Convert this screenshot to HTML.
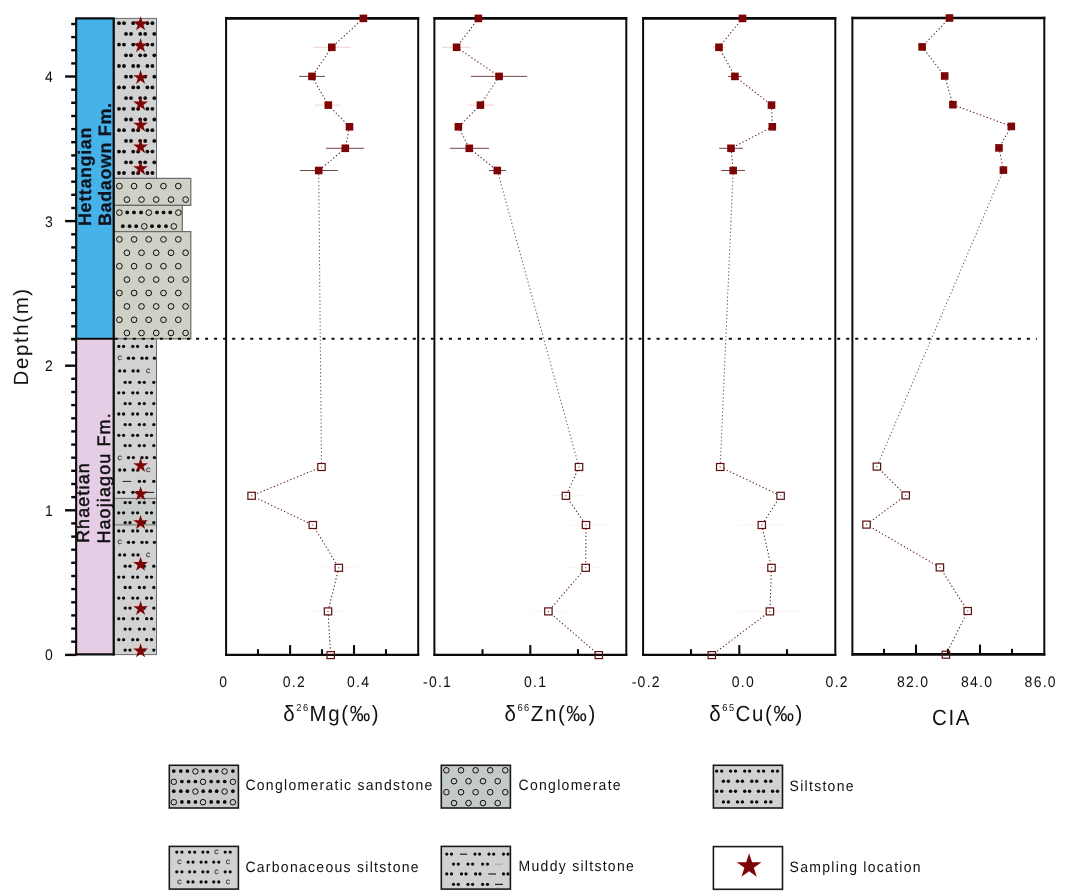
<!DOCTYPE html>
<html><head><meta charset="utf-8"><title>Depth profile</title>
<style>
html,body{margin:0;padding:0;background:#fff;}
svg{display:block;font-family:"Liberation Sans",sans-serif;text-rendering:geometricPrecision;}
.tl{font-size:14px;letter-spacing:1.25px;fill:#111;}
.at{font-size:20.5px;letter-spacing:1.6px;fill:#111;}
.lg{font-size:14px;letter-spacing:1.28px;fill:#111;}
.sup{font-size:9.3px;letter-spacing:1.5px;}
</style></head><body>
<svg width="1075" height="894" viewBox="0 0 1075 894">
<rect width="1075" height="894" fill="#fff"/>

<g stroke="#0a0a0a" stroke-width="2.4">
<line x1="65.1" y1="654.9" x2="76" y2="654.9"/>
<line x1="71.2" y1="641.7" x2="76" y2="641.7"/>
<line x1="71.2" y1="628.6" x2="76" y2="628.6"/>
<line x1="71.2" y1="615.4" x2="76" y2="615.4"/>
<line x1="71.2" y1="602.3" x2="76" y2="602.3"/>
<line x1="71.2" y1="589.1" x2="76" y2="589.1"/>
<line x1="71.2" y1="576.0" x2="76" y2="576.0"/>
<line x1="71.2" y1="562.8" x2="76" y2="562.8"/>
<line x1="71.2" y1="549.7" x2="76" y2="549.7"/>
<line x1="71.2" y1="536.6" x2="76" y2="536.6"/>
<line x1="71.2" y1="523.4" x2="76" y2="523.4"/>
<line x1="65.1" y1="510.3" x2="76" y2="510.3"/>
<line x1="71.2" y1="497.1" x2="76" y2="497.1"/>
<line x1="71.2" y1="484.0" x2="76" y2="484.0"/>
<line x1="71.2" y1="470.8" x2="76" y2="470.8"/>
<line x1="71.2" y1="457.7" x2="76" y2="457.7"/>
<line x1="71.2" y1="444.6" x2="76" y2="444.6"/>
<line x1="71.2" y1="431.4" x2="76" y2="431.4"/>
<line x1="71.2" y1="418.3" x2="76" y2="418.3"/>
<line x1="71.2" y1="405.1" x2="76" y2="405.1"/>
<line x1="71.2" y1="392.0" x2="76" y2="392.0"/>
<line x1="71.2" y1="378.8" x2="76" y2="378.8"/>
<line x1="65.1" y1="365.7" x2="76" y2="365.7"/>
<line x1="71.2" y1="352.5" x2="76" y2="352.5"/>
<line x1="71.2" y1="339.4" x2="76" y2="339.4"/>
<line x1="71.2" y1="326.3" x2="76" y2="326.3"/>
<line x1="71.2" y1="313.1" x2="76" y2="313.1"/>
<line x1="71.2" y1="300.0" x2="76" y2="300.0"/>
<line x1="71.2" y1="286.8" x2="76" y2="286.8"/>
<line x1="71.2" y1="273.7" x2="76" y2="273.7"/>
<line x1="71.2" y1="260.5" x2="76" y2="260.5"/>
<line x1="71.2" y1="247.4" x2="76" y2="247.4"/>
<line x1="71.2" y1="234.3" x2="76" y2="234.3"/>
<line x1="65.1" y1="221.1" x2="76" y2="221.1"/>
<line x1="71.2" y1="208.0" x2="76" y2="208.0"/>
<line x1="71.2" y1="194.8" x2="76" y2="194.8"/>
<line x1="71.2" y1="181.7" x2="76" y2="181.7"/>
<line x1="71.2" y1="168.5" x2="76" y2="168.5"/>
<line x1="71.2" y1="155.4" x2="76" y2="155.4"/>
<line x1="71.2" y1="142.2" x2="76" y2="142.2"/>
<line x1="71.2" y1="129.1" x2="76" y2="129.1"/>
<line x1="71.2" y1="116.0" x2="76" y2="116.0"/>
<line x1="71.2" y1="102.8" x2="76" y2="102.8"/>
<line x1="71.2" y1="89.7" x2="76" y2="89.7"/>
<line x1="65.1" y1="76.5" x2="76" y2="76.5"/>
<line x1="71.2" y1="63.4" x2="76" y2="63.4"/>
<line x1="71.2" y1="50.2" x2="76" y2="50.2"/>
<line x1="71.2" y1="37.1" x2="76" y2="37.1"/>
<line x1="71.2" y1="24.0" x2="76" y2="24.0"/>
</g>
<text class="tl" transform="translate(45.00,660.25) scale(1,1.090)" >0</text>
<text class="tl" transform="translate(45.00,515.67) scale(1,1.090)" >1</text>
<text class="tl" transform="translate(45.00,371.09) scale(1,1.090)" >2</text>
<text class="tl" transform="translate(45.00,226.51) scale(1,1.090)" >3</text>
<text class="tl" transform="translate(45.00,81.93) scale(1,1.090)" >4</text>
<text class="at" transform="translate(27.6,385.5) rotate(-90)">Depth(m)</text>
<rect x="76" y="18.4" width="38" height="320.4" fill="#45b2e9"/>
<rect x="76" y="338.8" width="38" height="315.6" fill="#e5cde5"/>
<g font-weight="bold" font-size="18px" letter-spacing="0.6px" fill="#10131c" stroke="#10131c" stroke-width="0.25">
<text transform="translate(90.8,226) rotate(-90)">Hettangian</text>
<text transform="translate(110.9,226) rotate(-90)">Badaown Fm.</text>
</g>
<g font-size="18px" letter-spacing="1.1px" fill="#111" stroke="#111" stroke-width="0.5">
<text transform="translate(89.3,543) rotate(-90)">Rhaetian</text>
<text transform="translate(109.9,543.6) rotate(-90)">Haojiagou Fm.</text>
</g>
<rect x="114.4" y="18.4" width="42.1" height="160" fill="#d2d2d2" stroke="#6a6a6a" stroke-width="1"/>
<g fill="#0a0a0a">
<circle cx="119.0" cy="23.2" r="1.90"/>
<circle cx="124.0" cy="23.2" r="1.90"/>
<circle cx="133.2" cy="23.2" r="1.90"/>
<circle cx="138.2" cy="23.2" r="1.90"/>
<circle cx="147.4" cy="23.2" r="1.90"/>
<circle cx="152.4" cy="23.2" r="1.90"/>
<circle cx="126.0" cy="33.9" r="1.90"/>
<circle cx="131.0" cy="33.9" r="1.90"/>
<circle cx="140.2" cy="33.9" r="1.90"/>
<circle cx="145.2" cy="33.9" r="1.90"/>
<circle cx="154.3" cy="33.9" r="1.90"/>
<circle cx="119.0" cy="44.6" r="1.90"/>
<circle cx="124.0" cy="44.6" r="1.90"/>
<circle cx="133.2" cy="44.6" r="1.90"/>
<circle cx="138.2" cy="44.6" r="1.90"/>
<circle cx="147.4" cy="44.6" r="1.90"/>
<circle cx="152.4" cy="44.6" r="1.90"/>
<circle cx="126.0" cy="55.3" r="1.90"/>
<circle cx="131.0" cy="55.3" r="1.90"/>
<circle cx="140.2" cy="55.3" r="1.90"/>
<circle cx="145.2" cy="55.3" r="1.90"/>
<circle cx="154.3" cy="55.3" r="1.90"/>
<circle cx="119.0" cy="66.0" r="1.90"/>
<circle cx="124.0" cy="66.0" r="1.90"/>
<circle cx="133.2" cy="66.0" r="1.90"/>
<circle cx="138.2" cy="66.0" r="1.90"/>
<circle cx="147.4" cy="66.0" r="1.90"/>
<circle cx="152.4" cy="66.0" r="1.90"/>
<circle cx="126.0" cy="76.7" r="1.90"/>
<circle cx="131.0" cy="76.7" r="1.90"/>
<circle cx="140.2" cy="76.7" r="1.90"/>
<circle cx="145.2" cy="76.7" r="1.90"/>
<circle cx="154.3" cy="76.7" r="1.90"/>
<circle cx="119.0" cy="87.4" r="1.90"/>
<circle cx="124.0" cy="87.4" r="1.90"/>
<circle cx="133.2" cy="87.4" r="1.90"/>
<circle cx="138.2" cy="87.4" r="1.90"/>
<circle cx="147.4" cy="87.4" r="1.90"/>
<circle cx="152.4" cy="87.4" r="1.90"/>
<circle cx="126.0" cy="98.1" r="1.90"/>
<circle cx="131.0" cy="98.1" r="1.90"/>
<circle cx="140.2" cy="98.1" r="1.90"/>
<circle cx="145.2" cy="98.1" r="1.90"/>
<circle cx="154.3" cy="98.1" r="1.90"/>
<circle cx="119.0" cy="108.8" r="1.90"/>
<circle cx="124.0" cy="108.8" r="1.90"/>
<circle cx="133.2" cy="108.8" r="1.90"/>
<circle cx="138.2" cy="108.8" r="1.90"/>
<circle cx="147.4" cy="108.8" r="1.90"/>
<circle cx="152.4" cy="108.8" r="1.90"/>
<circle cx="126.0" cy="119.5" r="1.90"/>
<circle cx="131.0" cy="119.5" r="1.90"/>
<circle cx="140.2" cy="119.5" r="1.90"/>
<circle cx="145.2" cy="119.5" r="1.90"/>
<circle cx="154.3" cy="119.5" r="1.90"/>
<circle cx="119.0" cy="130.2" r="1.90"/>
<circle cx="124.0" cy="130.2" r="1.90"/>
<circle cx="133.2" cy="130.2" r="1.90"/>
<circle cx="138.2" cy="130.2" r="1.90"/>
<circle cx="147.4" cy="130.2" r="1.90"/>
<circle cx="152.4" cy="130.2" r="1.90"/>
<circle cx="126.0" cy="140.9" r="1.90"/>
<circle cx="131.0" cy="140.9" r="1.90"/>
<circle cx="140.2" cy="140.9" r="1.90"/>
<circle cx="145.2" cy="140.9" r="1.90"/>
<circle cx="154.3" cy="140.9" r="1.90"/>
<circle cx="119.0" cy="151.6" r="1.90"/>
<circle cx="124.0" cy="151.6" r="1.90"/>
<circle cx="133.2" cy="151.6" r="1.90"/>
<circle cx="138.2" cy="151.6" r="1.90"/>
<circle cx="147.4" cy="151.6" r="1.90"/>
<circle cx="152.4" cy="151.6" r="1.90"/>
<circle cx="126.0" cy="162.3" r="1.90"/>
<circle cx="131.0" cy="162.3" r="1.90"/>
<circle cx="140.2" cy="162.3" r="1.90"/>
<circle cx="145.2" cy="162.3" r="1.90"/>
<circle cx="154.3" cy="162.3" r="1.90"/>
<circle cx="119.0" cy="173.0" r="1.90"/>
<circle cx="124.0" cy="173.0" r="1.90"/>
<circle cx="133.2" cy="173.0" r="1.90"/>
<circle cx="138.2" cy="173.0" r="1.90"/>
<circle cx="147.4" cy="173.0" r="1.90"/>
<circle cx="152.4" cy="173.0" r="1.90"/>
</g>
<rect x="114.4" y="178.4" width="76.4" height="27" fill="#d0d1c6" stroke="#6a6a6a" stroke-width="1.2"/>
<rect x="114.4" y="205.4" width="67.9" height="26.2" fill="#d0d1c6" stroke="#6a6a6a" stroke-width="1.2"/>
<rect x="114.4" y="231.6" width="76.4" height="107.2" fill="#d0d1c6" stroke="#6a6a6a" stroke-width="1.2"/>
<circle cx="119.4" cy="186.1" r="2.85" fill="none" stroke="#0c0c0c" stroke-width="1.00"/>
<circle cx="134.1" cy="186.1" r="2.85" fill="none" stroke="#0c0c0c" stroke-width="1.00"/>
<circle cx="148.7" cy="186.1" r="2.85" fill="none" stroke="#0c0c0c" stroke-width="1.00"/>
<circle cx="163.5" cy="186.1" r="2.85" fill="none" stroke="#0c0c0c" stroke-width="1.00"/>
<circle cx="178.3" cy="186.1" r="2.85" fill="none" stroke="#0c0c0c" stroke-width="1.00"/>
<circle cx="126.9" cy="199.6" r="2.85" fill="none" stroke="#0c0c0c" stroke-width="1.00"/>
<circle cx="141.5" cy="199.6" r="2.85" fill="none" stroke="#0c0c0c" stroke-width="1.00"/>
<circle cx="156.2" cy="199.6" r="2.85" fill="none" stroke="#0c0c0c" stroke-width="1.00"/>
<circle cx="171.0" cy="199.6" r="2.85" fill="none" stroke="#0c0c0c" stroke-width="1.00"/>
<circle cx="185.6" cy="199.6" r="2.85" fill="none" stroke="#0c0c0c" stroke-width="1.00"/>
<circle cx="119.4" cy="239.4" r="2.85" fill="none" stroke="#0c0c0c" stroke-width="1.00"/>
<circle cx="134.1" cy="239.4" r="2.85" fill="none" stroke="#0c0c0c" stroke-width="1.00"/>
<circle cx="148.7" cy="239.4" r="2.85" fill="none" stroke="#0c0c0c" stroke-width="1.00"/>
<circle cx="163.5" cy="239.4" r="2.85" fill="none" stroke="#0c0c0c" stroke-width="1.00"/>
<circle cx="178.3" cy="239.4" r="2.85" fill="none" stroke="#0c0c0c" stroke-width="1.00"/>
<circle cx="126.9" cy="252.8" r="2.85" fill="none" stroke="#0c0c0c" stroke-width="1.00"/>
<circle cx="141.5" cy="252.8" r="2.85" fill="none" stroke="#0c0c0c" stroke-width="1.00"/>
<circle cx="156.2" cy="252.8" r="2.85" fill="none" stroke="#0c0c0c" stroke-width="1.00"/>
<circle cx="171.0" cy="252.8" r="2.85" fill="none" stroke="#0c0c0c" stroke-width="1.00"/>
<circle cx="185.6" cy="252.8" r="2.85" fill="none" stroke="#0c0c0c" stroke-width="1.00"/>
<circle cx="119.4" cy="266.2" r="2.85" fill="none" stroke="#0c0c0c" stroke-width="1.00"/>
<circle cx="134.1" cy="266.2" r="2.85" fill="none" stroke="#0c0c0c" stroke-width="1.00"/>
<circle cx="148.7" cy="266.2" r="2.85" fill="none" stroke="#0c0c0c" stroke-width="1.00"/>
<circle cx="163.5" cy="266.2" r="2.85" fill="none" stroke="#0c0c0c" stroke-width="1.00"/>
<circle cx="178.3" cy="266.2" r="2.85" fill="none" stroke="#0c0c0c" stroke-width="1.00"/>
<circle cx="126.9" cy="279.6" r="2.85" fill="none" stroke="#0c0c0c" stroke-width="1.00"/>
<circle cx="141.5" cy="279.6" r="2.85" fill="none" stroke="#0c0c0c" stroke-width="1.00"/>
<circle cx="156.2" cy="279.6" r="2.85" fill="none" stroke="#0c0c0c" stroke-width="1.00"/>
<circle cx="171.0" cy="279.6" r="2.85" fill="none" stroke="#0c0c0c" stroke-width="1.00"/>
<circle cx="185.6" cy="279.6" r="2.85" fill="none" stroke="#0c0c0c" stroke-width="1.00"/>
<circle cx="119.4" cy="293.0" r="2.85" fill="none" stroke="#0c0c0c" stroke-width="1.00"/>
<circle cx="134.1" cy="293.0" r="2.85" fill="none" stroke="#0c0c0c" stroke-width="1.00"/>
<circle cx="148.7" cy="293.0" r="2.85" fill="none" stroke="#0c0c0c" stroke-width="1.00"/>
<circle cx="163.5" cy="293.0" r="2.85" fill="none" stroke="#0c0c0c" stroke-width="1.00"/>
<circle cx="178.3" cy="293.0" r="2.85" fill="none" stroke="#0c0c0c" stroke-width="1.00"/>
<circle cx="126.9" cy="306.4" r="2.85" fill="none" stroke="#0c0c0c" stroke-width="1.00"/>
<circle cx="141.5" cy="306.4" r="2.85" fill="none" stroke="#0c0c0c" stroke-width="1.00"/>
<circle cx="156.2" cy="306.4" r="2.85" fill="none" stroke="#0c0c0c" stroke-width="1.00"/>
<circle cx="171.0" cy="306.4" r="2.85" fill="none" stroke="#0c0c0c" stroke-width="1.00"/>
<circle cx="185.6" cy="306.4" r="2.85" fill="none" stroke="#0c0c0c" stroke-width="1.00"/>
<circle cx="119.4" cy="319.8" r="2.85" fill="none" stroke="#0c0c0c" stroke-width="1.00"/>
<circle cx="134.1" cy="319.8" r="2.85" fill="none" stroke="#0c0c0c" stroke-width="1.00"/>
<circle cx="148.7" cy="319.8" r="2.85" fill="none" stroke="#0c0c0c" stroke-width="1.00"/>
<circle cx="163.5" cy="319.8" r="2.85" fill="none" stroke="#0c0c0c" stroke-width="1.00"/>
<circle cx="178.3" cy="319.8" r="2.85" fill="none" stroke="#0c0c0c" stroke-width="1.00"/>
<circle cx="126.9" cy="333.0" r="2.85" fill="none" stroke="#0c0c0c" stroke-width="1.00"/>
<circle cx="141.5" cy="333.0" r="2.85" fill="none" stroke="#0c0c0c" stroke-width="1.00"/>
<circle cx="156.2" cy="333.0" r="2.85" fill="none" stroke="#0c0c0c" stroke-width="1.00"/>
<circle cx="171.0" cy="333.0" r="2.85" fill="none" stroke="#0c0c0c" stroke-width="1.00"/>
<circle cx="185.6" cy="333.0" r="2.85" fill="none" stroke="#0c0c0c" stroke-width="1.00"/>
<circle cx="119.4" cy="212.6" r="2.85" fill="none" stroke="#0c0c0c" stroke-width="1.00"/>
<circle cx="148.8" cy="212.6" r="2.85" fill="none" stroke="#0c0c0c" stroke-width="1.00"/>
<circle cx="178.4" cy="212.6" r="2.85" fill="none" stroke="#0c0c0c" stroke-width="1.00"/>
<circle cx="144.3" cy="226.4" r="2.85" fill="none" stroke="#0c0c0c" stroke-width="1.00"/>
<circle cx="173.8" cy="226.4" r="2.85" fill="none" stroke="#0c0c0c" stroke-width="1.00"/>
<g fill="#0a0a0a">
<circle cx="127.2" cy="212.4" r="1.90"/>
<circle cx="134.0" cy="212.4" r="1.90"/>
<circle cx="141.0" cy="212.4" r="1.90"/>
<circle cx="157.0" cy="212.4" r="1.90"/>
<circle cx="163.6" cy="212.4" r="1.90"/>
<circle cx="170.2" cy="212.4" r="1.90"/>
<circle cx="122.8" cy="226.2" r="1.90"/>
<circle cx="129.6" cy="226.2" r="1.90"/>
<circle cx="136.2" cy="226.2" r="1.90"/>
<circle cx="152.0" cy="226.2" r="1.90"/>
<circle cx="159.0" cy="226.2" r="1.90"/>
<circle cx="166.0" cy="226.2" r="1.90"/>
</g>
<rect x="114.4" y="338.8" width="42.1" height="315.8" fill="#d2d2d2" stroke="#6a6a6a" stroke-width="1"/>
<rect x="114.4" y="498.4" width="42.1" height="26.5" fill="#c9cdc9" stroke="#6a6a6a" stroke-width="1"/>
<g fill="#0a0a0a">
<circle cx="118.8" cy="346.4" r="1.65"/>
<circle cx="123.6" cy="346.4" r="1.65"/>
<circle cx="132.8" cy="346.4" r="1.65"/>
<circle cx="137.6" cy="346.4" r="1.65"/>
<circle cx="146.7" cy="346.4" r="1.65"/>
<circle cx="151.5" cy="346.4" r="1.65"/>
<circle cx="128.5" cy="358.2" r="1.65"/>
<circle cx="133.4" cy="358.2" r="1.65"/>
<circle cx="142.0" cy="358.2" r="1.65"/>
<circle cx="146.7" cy="358.2" r="1.65"/>
<circle cx="154.4" cy="358.2" r="1.65"/>
<circle cx="119.7" cy="370.9" r="1.65"/>
<circle cx="124.6" cy="370.9" r="1.65"/>
<circle cx="133.1" cy="370.9" r="1.65"/>
<circle cx="138.0" cy="370.9" r="1.65"/>
<circle cx="125.2" cy="382.3" r="1.65"/>
<circle cx="130.0" cy="382.3" r="1.65"/>
<circle cx="139.4" cy="382.3" r="1.65"/>
<circle cx="144.3" cy="382.3" r="1.65"/>
<circle cx="153.8" cy="382.3" r="1.65"/>
<circle cx="118.8" cy="392.8" r="1.65"/>
<circle cx="123.6" cy="392.8" r="1.65"/>
<circle cx="132.8" cy="392.8" r="1.65"/>
<circle cx="137.6" cy="392.8" r="1.65"/>
<circle cx="146.7" cy="392.8" r="1.65"/>
<circle cx="151.5" cy="392.8" r="1.65"/>
<circle cx="125.2" cy="403.6" r="1.65"/>
<circle cx="130.0" cy="403.6" r="1.65"/>
<circle cx="139.4" cy="403.6" r="1.65"/>
<circle cx="144.3" cy="403.6" r="1.65"/>
<circle cx="153.8" cy="403.6" r="1.65"/>
<circle cx="118.8" cy="414.0" r="1.65"/>
<circle cx="123.6" cy="414.0" r="1.65"/>
<circle cx="132.8" cy="414.0" r="1.65"/>
<circle cx="137.6" cy="414.0" r="1.65"/>
<circle cx="146.7" cy="414.0" r="1.65"/>
<circle cx="151.5" cy="414.0" r="1.65"/>
<circle cx="125.2" cy="424.6" r="1.65"/>
<circle cx="130.0" cy="424.6" r="1.65"/>
<circle cx="139.4" cy="424.6" r="1.65"/>
<circle cx="144.3" cy="424.6" r="1.65"/>
<circle cx="153.8" cy="424.6" r="1.65"/>
<circle cx="118.8" cy="435.3" r="1.65"/>
<circle cx="123.6" cy="435.3" r="1.65"/>
<circle cx="132.8" cy="435.3" r="1.65"/>
<circle cx="137.6" cy="435.3" r="1.65"/>
<circle cx="146.7" cy="435.3" r="1.65"/>
<circle cx="151.5" cy="435.3" r="1.65"/>
<circle cx="125.2" cy="445.6" r="1.65"/>
<circle cx="130.0" cy="445.6" r="1.65"/>
<circle cx="139.4" cy="445.6" r="1.65"/>
<circle cx="144.3" cy="445.6" r="1.65"/>
<circle cx="153.8" cy="445.6" r="1.65"/>
<circle cx="128.5" cy="457.6" r="1.65"/>
<circle cx="133.4" cy="457.6" r="1.65"/>
<circle cx="142.0" cy="457.6" r="1.65"/>
<circle cx="146.7" cy="457.6" r="1.65"/>
<circle cx="154.4" cy="457.6" r="1.65"/>
<circle cx="119.7" cy="470.0" r="1.65"/>
<circle cx="124.6" cy="470.0" r="1.65"/>
<circle cx="133.1" cy="470.0" r="1.65"/>
<circle cx="138.0" cy="470.0" r="1.65"/>
<rect x="122.6" y="480.9" width="8.6" height="0.9"/>
<circle cx="139.4" cy="481.3" r="1.65"/>
<circle cx="144.3" cy="481.3" r="1.65"/>
<circle cx="153.8" cy="481.3" r="1.65"/>
<circle cx="118.8" cy="492.3" r="1.65"/>
<circle cx="123.6" cy="492.3" r="1.65"/>
<circle cx="132.8" cy="492.3" r="1.65"/>
<circle cx="137.6" cy="492.3" r="1.65"/>
<rect x="145.5" y="491.9" width="8.6" height="0.9"/>
<circle cx="125.2" cy="502.6" r="1.65"/>
<circle cx="130.0" cy="502.6" r="1.65"/>
<circle cx="139.4" cy="502.6" r="1.65"/>
<circle cx="144.3" cy="502.6" r="1.65"/>
<circle cx="153.8" cy="502.6" r="1.65"/>
<circle cx="118.8" cy="512.8" r="1.65"/>
<circle cx="123.6" cy="512.8" r="1.65"/>
<circle cx="132.8" cy="512.8" r="1.65"/>
<circle cx="137.6" cy="512.8" r="1.65"/>
<circle cx="146.7" cy="512.8" r="1.65"/>
<circle cx="151.5" cy="512.8" r="1.65"/>
<circle cx="125.2" cy="522.6" r="1.65"/>
<circle cx="130.0" cy="522.6" r="1.65"/>
<circle cx="139.4" cy="522.6" r="1.65"/>
<circle cx="144.3" cy="522.6" r="1.65"/>
<circle cx="153.8" cy="522.6" r="1.65"/>
<circle cx="118.8" cy="530.9" r="1.65"/>
<circle cx="123.6" cy="530.9" r="1.65"/>
<circle cx="132.8" cy="530.9" r="1.65"/>
<circle cx="137.6" cy="530.9" r="1.65"/>
<circle cx="146.7" cy="530.9" r="1.65"/>
<circle cx="151.5" cy="530.9" r="1.65"/>
<circle cx="128.5" cy="542.3" r="1.65"/>
<circle cx="133.4" cy="542.3" r="1.65"/>
<circle cx="142.0" cy="542.3" r="1.65"/>
<circle cx="146.7" cy="542.3" r="1.65"/>
<circle cx="154.4" cy="542.3" r="1.65"/>
<circle cx="119.7" cy="554.9" r="1.65"/>
<circle cx="124.6" cy="554.9" r="1.65"/>
<circle cx="133.1" cy="554.9" r="1.65"/>
<circle cx="138.0" cy="554.9" r="1.65"/>
<circle cx="125.2" cy="566.2" r="1.65"/>
<circle cx="130.0" cy="566.2" r="1.65"/>
<circle cx="139.4" cy="566.2" r="1.65"/>
<circle cx="144.3" cy="566.2" r="1.65"/>
<circle cx="153.8" cy="566.2" r="1.65"/>
<circle cx="118.8" cy="577.1" r="1.65"/>
<circle cx="123.6" cy="577.1" r="1.65"/>
<circle cx="132.8" cy="577.1" r="1.65"/>
<circle cx="137.6" cy="577.1" r="1.65"/>
<circle cx="146.7" cy="577.1" r="1.65"/>
<circle cx="151.5" cy="577.1" r="1.65"/>
<circle cx="125.2" cy="587.5" r="1.65"/>
<circle cx="130.0" cy="587.5" r="1.65"/>
<circle cx="139.4" cy="587.5" r="1.65"/>
<circle cx="144.3" cy="587.5" r="1.65"/>
<circle cx="153.8" cy="587.5" r="1.65"/>
<circle cx="118.8" cy="598.1" r="1.65"/>
<circle cx="123.6" cy="598.1" r="1.65"/>
<circle cx="132.8" cy="598.1" r="1.65"/>
<circle cx="137.6" cy="598.1" r="1.65"/>
<circle cx="146.7" cy="598.1" r="1.65"/>
<circle cx="151.5" cy="598.1" r="1.65"/>
<circle cx="125.2" cy="608.1" r="1.65"/>
<circle cx="130.0" cy="608.1" r="1.65"/>
<circle cx="139.4" cy="608.1" r="1.65"/>
<circle cx="144.3" cy="608.1" r="1.65"/>
<circle cx="153.8" cy="608.1" r="1.65"/>
<circle cx="118.8" cy="618.7" r="1.65"/>
<circle cx="123.6" cy="618.7" r="1.65"/>
<circle cx="132.8" cy="618.7" r="1.65"/>
<circle cx="137.6" cy="618.7" r="1.65"/>
<circle cx="146.7" cy="618.7" r="1.65"/>
<circle cx="151.5" cy="618.7" r="1.65"/>
<circle cx="125.2" cy="629.1" r="1.65"/>
<circle cx="130.0" cy="629.1" r="1.65"/>
<circle cx="139.4" cy="629.1" r="1.65"/>
<circle cx="144.3" cy="629.1" r="1.65"/>
<circle cx="153.8" cy="629.1" r="1.65"/>
<circle cx="118.8" cy="639.7" r="1.65"/>
<circle cx="123.6" cy="639.7" r="1.65"/>
<circle cx="132.8" cy="639.7" r="1.65"/>
<circle cx="137.6" cy="639.7" r="1.65"/>
<circle cx="146.7" cy="639.7" r="1.65"/>
<circle cx="151.5" cy="639.7" r="1.65"/>
<circle cx="125.2" cy="650.1" r="1.65"/>
<circle cx="130.0" cy="650.1" r="1.65"/>
<circle cx="139.4" cy="650.1" r="1.65"/>
<circle cx="144.3" cy="650.1" r="1.65"/>
<circle cx="153.8" cy="650.1" r="1.65"/>
</g>
<g font-size="6.2px" fill="#2a2a2a" stroke="#2a2a2a" stroke-width="0.2" text-anchor="middle">
<text x="119.7" y="360.3">C</text>
<text x="148.3" y="373.0">C</text>
<text x="119.7" y="459.7">C</text>
<text x="148.3" y="472.1">C</text>
<text x="119.7" y="544.4">C</text>
<text x="148.3" y="557.0">C</text>
</g>
<polygon points="140.60,16.20 142.35,21.59 148.02,21.59 143.43,24.92 145.18,30.31 140.60,26.98 136.02,30.31 137.77,24.92 133.18,21.59 138.85,21.59" fill="#7e0505"/>
<polygon points="140.60,38.00 142.35,43.39 148.02,43.39 143.43,46.72 145.18,52.11 140.60,48.78 136.02,52.11 137.77,46.72 133.18,43.39 138.85,43.39" fill="#7e0505"/>
<polygon points="140.60,69.80 142.35,75.19 148.02,75.19 143.43,78.52 145.18,83.91 140.60,80.58 136.02,83.91 137.77,78.52 133.18,75.19 138.85,75.19" fill="#7e0505"/>
<polygon points="140.60,96.20 142.35,101.59 148.02,101.59 143.43,104.92 145.18,110.31 140.60,106.98 136.02,110.31 137.77,104.92 133.18,101.59 138.85,101.59" fill="#7e0505"/>
<polygon points="140.60,117.40 142.35,122.79 148.02,122.79 143.43,126.12 145.18,131.51 140.60,128.18 136.02,131.51 137.77,126.12 133.18,122.79 138.85,122.79" fill="#7e0505"/>
<polygon points="140.60,139.20 142.35,144.59 148.02,144.59 143.43,147.92 145.18,153.31 140.60,149.98 136.02,153.31 137.77,147.92 133.18,144.59 138.85,144.59" fill="#7e0505"/>
<polygon points="140.60,160.80 142.35,166.19 148.02,166.19 143.43,169.52 145.18,174.91 140.60,171.58 136.02,174.91 137.77,169.52 133.18,166.19 138.85,166.19" fill="#7e0505"/>
<polygon points="140.60,457.80 142.35,463.19 148.02,463.19 143.43,466.52 145.18,471.91 140.60,468.58 136.02,471.91 137.77,466.52 133.18,463.19 138.85,463.19" fill="#7e0505"/>
<polygon points="140.60,486.20 142.35,491.59 148.02,491.59 143.43,494.92 145.18,500.31 140.60,496.98 136.02,500.31 137.77,494.92 133.18,491.59 138.85,491.59" fill="#7e0505"/>
<polygon points="140.60,514.90 142.35,520.29 148.02,520.29 143.43,523.62 145.18,529.01 140.60,525.68 136.02,529.01 137.77,523.62 133.18,520.29 138.85,520.29" fill="#7e0505"/>
<polygon points="140.60,556.70 142.35,562.09 148.02,562.09 143.43,565.42 145.18,570.81 140.60,567.48 136.02,570.81 137.77,565.42 133.18,562.09 138.85,562.09" fill="#7e0505"/>
<polygon points="140.60,600.80 142.35,606.19 148.02,606.19 143.43,609.52 145.18,614.91 140.60,611.58 136.02,614.91 137.77,609.52 133.18,606.19 138.85,606.19" fill="#7e0505"/>
<polygon points="140.60,643.20 142.35,648.59 148.02,648.59 143.43,651.92 145.18,657.31 140.60,653.98 136.02,657.31 137.77,651.92 133.18,648.59 138.85,648.59" fill="#7e0505"/>
<g stroke="#0c0c0c" stroke-width="2.1" fill="none"><path d="M76.15 655.4 V18.4 H113.65 V655.4"/><path d="M75.1 654.4 H114.7" stroke-width="2.4"/><path d="M71.2 338.8 H114.7"/></g>
<line x1="114.8" y1="338.8" x2="1036.8" y2="338.8" stroke="#0a0a0a" stroke-width="2" stroke-dasharray="3 6.03"/>
<line x1="363.4" y1="18.4" x2="331.8" y2="47.3" stroke="#560b0b" stroke-width="1.05" stroke-dasharray="1.3 2.3" opacity="0.95"/>
<line x1="331.8" y1="47.3" x2="312.0" y2="76.4" stroke="#560b0b" stroke-width="1.05" stroke-dasharray="1.3 2.3" opacity="0.95"/>
<line x1="312.0" y1="76.4" x2="328.3" y2="105.1" stroke="#560b0b" stroke-width="1.05" stroke-dasharray="1.3 2.3" opacity="0.95"/>
<line x1="328.3" y1="105.1" x2="349.5" y2="126.8" stroke="#560b0b" stroke-width="1.05" stroke-dasharray="1.3 2.3" opacity="0.95"/>
<line x1="349.5" y1="126.8" x2="345.3" y2="148.3" stroke="#560b0b" stroke-width="1.05" stroke-dasharray="1.3 2.3" opacity="0.95"/>
<line x1="345.3" y1="148.3" x2="318.7" y2="170.5" stroke="#560b0b" stroke-width="1.05" stroke-dasharray="1.3 2.3" opacity="0.95"/>
<line x1="318.7" y1="170.5" x2="321.5" y2="467.0" stroke="#560b0b" stroke-width="1.05" stroke-dasharray="1.3 2.3" opacity="0.70"/>
<line x1="321.5" y1="467.0" x2="251.6" y2="495.8" stroke="#560b0b" stroke-width="1.05" stroke-dasharray="1.3 2.3" opacity="0.95"/>
<line x1="251.6" y1="495.8" x2="312.8" y2="525.0" stroke="#560b0b" stroke-width="1.05" stroke-dasharray="1.3 2.3" opacity="0.95"/>
<line x1="312.8" y1="525.0" x2="338.8" y2="567.8" stroke="#560b0b" stroke-width="1.05" stroke-dasharray="1.3 2.3" opacity="0.95"/>
<line x1="338.8" y1="567.8" x2="328.0" y2="611.4" stroke="#560b0b" stroke-width="1.05" stroke-dasharray="1.3 2.3" opacity="0.95"/>
<line x1="328.0" y1="611.4" x2="330.4" y2="650.9" stroke="#560b0b" stroke-width="1.05" stroke-dasharray="1.3 2.3" opacity="0.95"/>
<line x1="313.0" y1="47.3" x2="351.0" y2="47.3" stroke="#f3cfcf" stroke-width="1"/>
<line x1="299.2" y1="76.4" x2="325.0" y2="76.4" stroke="#754444" stroke-width="1"/>
<line x1="315.0" y1="105.1" x2="340.8" y2="105.1" stroke="#f3cfcf" stroke-width="1"/>
<line x1="326.0" y1="148.3" x2="364.0" y2="148.3" stroke="#754444" stroke-width="1"/>
<line x1="300.0" y1="170.5" x2="337.8" y2="170.5" stroke="#754444" stroke-width="1"/>
<line x1="322.0" y1="567.8" x2="358.0" y2="567.8" stroke="#fbf2ef" stroke-width="1"/>
<line x1="309.0" y1="611.4" x2="347.0" y2="611.4" stroke="#fbf2ef" stroke-width="1"/>
<g stroke="#0a0a0a" stroke-width="2" fill="none">
<path d="M226.10 17.20 V655.95 M418.20 17.20 V655.95"/>
<path d="M225.10 18.40 H419.20" stroke-width="2.6"/>
<path d="M225.10 654.85 H419.20" stroke-width="2.1"/>
</g>
<line x1="258.0" y1="654.9" x2="258.0" y2="649.2" stroke="#0a0a0a" stroke-width="2.1"/>
<line x1="290.1" y1="654.9" x2="290.1" y2="645.1" stroke="#0a0a0a" stroke-width="2.1"/>
<line x1="322.0" y1="654.9" x2="322.0" y2="649.2" stroke="#0a0a0a" stroke-width="2.1"/>
<line x1="354.0" y1="654.9" x2="354.0" y2="645.1" stroke="#0a0a0a" stroke-width="2.1"/>
<line x1="386.0" y1="654.9" x2="386.0" y2="649.2" stroke="#0a0a0a" stroke-width="2.1"/>
<rect x="359.6" y="14.6" width="7.6" height="7.6" fill="#7e0505"/>
<rect x="328.0" y="43.5" width="7.6" height="7.6" fill="#7e0505"/>
<rect x="308.2" y="72.6" width="7.6" height="7.6" fill="#7e0505"/>
<rect x="324.5" y="101.3" width="7.6" height="7.6" fill="#7e0505"/>
<rect x="345.7" y="123.0" width="7.6" height="7.6" fill="#7e0505"/>
<rect x="341.5" y="144.5" width="7.6" height="7.6" fill="#7e0505"/>
<rect x="314.9" y="166.7" width="7.6" height="7.6" fill="#7e0505"/>
<rect x="317.8" y="463.5" width="7.4" height="7.0" fill="#fff" stroke="#5c0f0f" stroke-width="1.2"/>
<rect x="321.0" y="466.5" width="1" height="1" fill="#5a1010"/>
<rect x="247.9" y="492.3" width="7.4" height="7.0" fill="#fff" stroke="#5c0f0f" stroke-width="1.2"/>
<rect x="251.1" y="495.3" width="1" height="1" fill="#5a1010"/>
<rect x="309.1" y="521.5" width="7.4" height="7.0" fill="#fff" stroke="#5c0f0f" stroke-width="1.2"/>
<rect x="312.3" y="524.5" width="1" height="1" fill="#5a1010"/>
<rect x="335.1" y="564.3" width="7.4" height="7.0" fill="#fff" stroke="#5c0f0f" stroke-width="1.2"/>
<rect x="338.3" y="567.3" width="1" height="1" fill="#5a1010"/>
<rect x="324.3" y="607.9" width="7.4" height="7.0" fill="#fff" stroke="#5c0f0f" stroke-width="1.2"/>
<rect x="327.5" y="610.9" width="1" height="1" fill="#5a1010"/>
<rect x="327.0" y="651.6" width="7.4" height="7.0" fill="none" stroke="#5c0f0f" stroke-width="1.2"/>
<rect x="330.2" y="654.6" width="1" height="1" fill="#5a1010"/>
<text class="tl" transform="translate(219.20,686.90) scale(1,1.090)" >0</text>
<text class="tl" transform="translate(282.80,686.90) scale(1,1.090)" >0.2</text>
<text class="tl" transform="translate(347.00,686.90) scale(1,1.090)" >0.4</text>
<text class="at" transform="translate(283.20,720.80) scale(1,1.070)" >δ<tspan class="sup" dy="-9.6">26</tspan><tspan dy="9.6">Mg(‰)</tspan></text>
<line x1="478.4" y1="18.4" x2="456.6" y2="47.3" stroke="#560b0b" stroke-width="1.05" stroke-dasharray="1.3 2.3" opacity="0.95"/>
<line x1="456.6" y1="47.3" x2="499.1" y2="76.4" stroke="#560b0b" stroke-width="1.05" stroke-dasharray="1.3 2.3" opacity="0.95"/>
<line x1="499.1" y1="76.4" x2="480.4" y2="105.1" stroke="#560b0b" stroke-width="1.05" stroke-dasharray="1.3 2.3" opacity="0.95"/>
<line x1="480.4" y1="105.1" x2="458.4" y2="126.8" stroke="#560b0b" stroke-width="1.05" stroke-dasharray="1.3 2.3" opacity="0.95"/>
<line x1="458.4" y1="126.8" x2="469.3" y2="148.3" stroke="#560b0b" stroke-width="1.05" stroke-dasharray="1.3 2.3" opacity="0.95"/>
<line x1="469.3" y1="148.3" x2="497.3" y2="170.5" stroke="#560b0b" stroke-width="1.05" stroke-dasharray="1.3 2.3" opacity="0.95"/>
<line x1="497.3" y1="170.5" x2="579.0" y2="467.0" stroke="#560b0b" stroke-width="1.05" stroke-dasharray="1.3 2.3" opacity="0.70"/>
<line x1="579.0" y1="467.0" x2="565.9" y2="495.8" stroke="#560b0b" stroke-width="1.05" stroke-dasharray="1.3 2.3" opacity="0.95"/>
<line x1="565.9" y1="495.8" x2="586.0" y2="525.0" stroke="#560b0b" stroke-width="1.05" stroke-dasharray="1.3 2.3" opacity="0.95"/>
<line x1="586.0" y1="525.0" x2="585.7" y2="567.8" stroke="#560b0b" stroke-width="1.05" stroke-dasharray="1.3 2.3" opacity="0.95"/>
<line x1="585.7" y1="567.8" x2="548.4" y2="611.4" stroke="#560b0b" stroke-width="1.05" stroke-dasharray="1.3 2.3" opacity="0.95"/>
<line x1="548.4" y1="611.4" x2="595.6" y2="652.3" stroke="#560b0b" stroke-width="1.05" stroke-dasharray="1.3 2.3" opacity="0.95"/>
<line x1="442.1" y1="47.3" x2="470.9" y2="47.3" stroke="#f3cfcf" stroke-width="1"/>
<line x1="470.9" y1="76.4" x2="527.1" y2="76.4" stroke="#754444" stroke-width="1"/>
<line x1="468.3" y1="105.1" x2="494.0" y2="105.1" stroke="#f3cfcf" stroke-width="1"/>
<line x1="450.0" y1="148.3" x2="489.0" y2="148.3" stroke="#754444" stroke-width="1"/>
<line x1="489.0" y1="170.5" x2="506.0" y2="170.5" stroke="#754444" stroke-width="1"/>
<line x1="549.0" y1="495.8" x2="584.0" y2="495.8" stroke="#fbf2ef" stroke-width="1"/>
<line x1="571.0" y1="525.0" x2="609.0" y2="525.0" stroke="#fbf2ef" stroke-width="1"/>
<line x1="565.0" y1="567.8" x2="605.0" y2="567.8" stroke="#fbf2ef" stroke-width="1"/>
<line x1="532.0" y1="611.4" x2="565.0" y2="611.4" stroke="#fbf2ef" stroke-width="1"/>
<g stroke="#0a0a0a" stroke-width="2" fill="none">
<path d="M434.40 17.20 V655.95 M626.30 17.20 V655.95"/>
<path d="M433.40 18.40 H627.30" stroke-width="2.6"/>
<path d="M433.40 654.85 H627.30" stroke-width="2.1"/>
</g>
<line x1="482.5" y1="654.9" x2="482.5" y2="649.2" stroke="#0a0a0a" stroke-width="2.1"/>
<line x1="530.3" y1="654.9" x2="530.3" y2="645.1" stroke="#0a0a0a" stroke-width="2.1"/>
<line x1="578.0" y1="654.9" x2="578.0" y2="649.2" stroke="#0a0a0a" stroke-width="2.1"/>
<rect x="474.6" y="14.6" width="7.6" height="7.6" fill="#7e0505"/>
<rect x="452.8" y="43.5" width="7.6" height="7.6" fill="#7e0505"/>
<rect x="495.3" y="72.6" width="7.6" height="7.6" fill="#7e0505"/>
<rect x="476.6" y="101.3" width="7.6" height="7.6" fill="#7e0505"/>
<rect x="454.6" y="123.0" width="7.6" height="7.6" fill="#7e0505"/>
<rect x="465.5" y="144.5" width="7.6" height="7.6" fill="#7e0505"/>
<rect x="493.5" y="166.7" width="7.6" height="7.6" fill="#7e0505"/>
<rect x="575.3" y="463.5" width="7.4" height="7.0" fill="#fff" stroke="#5c0f0f" stroke-width="1.2"/>
<rect x="578.5" y="466.5" width="1" height="1" fill="#5a1010"/>
<rect x="562.2" y="492.3" width="7.4" height="7.0" fill="#fff" stroke="#5c0f0f" stroke-width="1.2"/>
<rect x="565.4" y="495.3" width="1" height="1" fill="#5a1010"/>
<rect x="582.3" y="521.5" width="7.4" height="7.0" fill="#fff" stroke="#5c0f0f" stroke-width="1.2"/>
<rect x="585.5" y="524.5" width="1" height="1" fill="#5a1010"/>
<rect x="582.0" y="564.3" width="7.4" height="7.0" fill="#fff" stroke="#5c0f0f" stroke-width="1.2"/>
<rect x="585.2" y="567.3" width="1" height="1" fill="#5a1010"/>
<rect x="544.7" y="607.9" width="7.4" height="7.0" fill="#fff" stroke="#5c0f0f" stroke-width="1.2"/>
<rect x="547.9" y="610.9" width="1" height="1" fill="#5a1010"/>
<rect x="595.1" y="651.6" width="7.4" height="7.0" fill="none" stroke="#5c0f0f" stroke-width="1.2"/>
<rect x="598.3" y="654.6" width="1" height="1" fill="#5a1010"/>
<text class="tl" transform="translate(423.00,686.90) scale(1,1.090)" >-0.1</text>
<text class="tl" transform="translate(524.00,686.90) scale(1,1.090)" >0.1</text>
<text class="at" transform="translate(504.40,720.80) scale(1,1.070)" >δ<tspan class="sup" dy="-9.6">66</tspan><tspan dy="9.6">Zn(‰)</tspan></text>
<line x1="742.5" y1="18.4" x2="719.0" y2="47.3" stroke="#560b0b" stroke-width="1.05" stroke-dasharray="1.3 2.3" opacity="0.95"/>
<line x1="719.0" y1="47.3" x2="734.9" y2="76.4" stroke="#560b0b" stroke-width="1.05" stroke-dasharray="1.3 2.3" opacity="0.95"/>
<line x1="734.9" y1="76.4" x2="771.5" y2="105.1" stroke="#560b0b" stroke-width="1.05" stroke-dasharray="1.3 2.3" opacity="0.95"/>
<line x1="771.5" y1="105.1" x2="772.3" y2="126.8" stroke="#560b0b" stroke-width="1.05" stroke-dasharray="1.3 2.3" opacity="0.95"/>
<line x1="772.3" y1="126.8" x2="731.0" y2="148.3" stroke="#560b0b" stroke-width="1.05" stroke-dasharray="1.3 2.3" opacity="0.95"/>
<line x1="731.0" y1="148.3" x2="733.2" y2="170.5" stroke="#560b0b" stroke-width="1.05" stroke-dasharray="1.3 2.3" opacity="0.95"/>
<line x1="733.2" y1="170.5" x2="720.2" y2="467.0" stroke="#560b0b" stroke-width="1.05" stroke-dasharray="1.3 2.3" opacity="0.70"/>
<line x1="720.2" y1="467.0" x2="780.6" y2="495.8" stroke="#560b0b" stroke-width="1.05" stroke-dasharray="1.3 2.3" opacity="0.95"/>
<line x1="780.6" y1="495.8" x2="761.8" y2="525.0" stroke="#560b0b" stroke-width="1.05" stroke-dasharray="1.3 2.3" opacity="0.95"/>
<line x1="761.8" y1="525.0" x2="771.5" y2="567.8" stroke="#560b0b" stroke-width="1.05" stroke-dasharray="1.3 2.3" opacity="0.95"/>
<line x1="771.5" y1="567.8" x2="769.9" y2="611.4" stroke="#560b0b" stroke-width="1.05" stroke-dasharray="1.3 2.3" opacity="0.95"/>
<line x1="769.9" y1="611.4" x2="715.2" y2="652.6" stroke="#560b0b" stroke-width="1.05" stroke-dasharray="1.3 2.3" opacity="0.95"/>
<line x1="713.0" y1="47.3" x2="725.5" y2="47.3" stroke="#f3cfcf" stroke-width="1"/>
<line x1="728.0" y1="76.4" x2="741.7" y2="76.4" stroke="#754444" stroke-width="1"/>
<line x1="719.2" y1="148.3" x2="743.0" y2="148.3" stroke="#754444" stroke-width="1"/>
<line x1="721.2" y1="170.5" x2="745.0" y2="170.5" stroke="#754444" stroke-width="1"/>
<line x1="738.0" y1="525.0" x2="784.0" y2="525.0" stroke="#fbf2ef" stroke-width="1"/>
<line x1="755.0" y1="567.8" x2="786.0" y2="567.8" stroke="#fbf2ef" stroke-width="1"/>
<line x1="739.0" y1="611.4" x2="800.0" y2="611.4" stroke="#fbf2ef" stroke-width="1"/>
<g stroke="#0a0a0a" stroke-width="2" fill="none">
<path d="M643.10 17.20 V655.95 M835.30 17.20 V655.95"/>
<path d="M642.10 18.40 H836.30" stroke-width="2.6"/>
<path d="M642.10 654.85 H836.30" stroke-width="2.1"/>
</g>
<line x1="691.0" y1="654.9" x2="691.0" y2="649.2" stroke="#0a0a0a" stroke-width="2.1"/>
<line x1="739.3" y1="654.9" x2="739.3" y2="645.1" stroke="#0a0a0a" stroke-width="2.1"/>
<line x1="787.0" y1="654.9" x2="787.0" y2="649.2" stroke="#0a0a0a" stroke-width="2.1"/>
<rect x="738.7" y="14.6" width="7.6" height="7.6" fill="#7e0505"/>
<rect x="715.2" y="43.5" width="7.6" height="7.6" fill="#7e0505"/>
<rect x="731.1" y="72.6" width="7.6" height="7.6" fill="#7e0505"/>
<rect x="767.7" y="101.3" width="7.6" height="7.6" fill="#7e0505"/>
<rect x="768.5" y="123.0" width="7.6" height="7.6" fill="#7e0505"/>
<rect x="727.2" y="144.5" width="7.6" height="7.6" fill="#7e0505"/>
<rect x="729.4" y="166.7" width="7.6" height="7.6" fill="#7e0505"/>
<rect x="716.5" y="463.5" width="7.4" height="7.0" fill="#fff" stroke="#5c0f0f" stroke-width="1.2"/>
<rect x="719.7" y="466.5" width="1" height="1" fill="#5a1010"/>
<rect x="776.9" y="492.3" width="7.4" height="7.0" fill="#fff" stroke="#5c0f0f" stroke-width="1.2"/>
<rect x="780.1" y="495.3" width="1" height="1" fill="#5a1010"/>
<rect x="758.1" y="521.5" width="7.4" height="7.0" fill="#fff" stroke="#5c0f0f" stroke-width="1.2"/>
<rect x="761.3" y="524.5" width="1" height="1" fill="#5a1010"/>
<rect x="767.8" y="564.3" width="7.4" height="7.0" fill="#fff" stroke="#5c0f0f" stroke-width="1.2"/>
<rect x="771.0" y="567.3" width="1" height="1" fill="#5a1010"/>
<rect x="766.2" y="607.9" width="7.4" height="7.0" fill="#fff" stroke="#5c0f0f" stroke-width="1.2"/>
<rect x="769.4" y="610.9" width="1" height="1" fill="#5a1010"/>
<rect x="708.1" y="651.6" width="7.4" height="7.0" fill="none" stroke="#5c0f0f" stroke-width="1.2"/>
<rect x="711.3" y="654.6" width="1" height="1" fill="#5a1010"/>
<text class="tl" transform="translate(631.70,686.90) scale(1,1.090)" >-0.2</text>
<text class="tl" transform="translate(731.80,686.90) scale(1,1.090)" >0.0</text>
<text class="tl" transform="translate(825.60,686.90) scale(1,1.090)" >0.2</text>
<text class="at" transform="translate(709.20,720.80) scale(1,1.070)" >δ<tspan class="sup" dy="-9.6">65</tspan><tspan dy="9.6">Cu(‰)</tspan></text>
<line x1="949.5" y1="18.0" x2="922.1" y2="46.9" stroke="#560b0b" stroke-width="1.05" stroke-dasharray="1.3 2.3" opacity="0.95"/>
<line x1="922.1" y1="46.9" x2="944.7" y2="76.0" stroke="#560b0b" stroke-width="1.05" stroke-dasharray="1.3 2.3" opacity="0.95"/>
<line x1="944.7" y1="76.0" x2="952.9" y2="104.7" stroke="#560b0b" stroke-width="1.05" stroke-dasharray="1.3 2.3" opacity="0.95"/>
<line x1="952.9" y1="104.7" x2="1011.3" y2="126.4" stroke="#560b0b" stroke-width="1.05" stroke-dasharray="1.3 2.3" opacity="0.95"/>
<line x1="1011.3" y1="126.4" x2="999.0" y2="147.9" stroke="#560b0b" stroke-width="1.05" stroke-dasharray="1.3 2.3" opacity="0.95"/>
<line x1="999.0" y1="147.9" x2="1003.4" y2="170.1" stroke="#560b0b" stroke-width="1.05" stroke-dasharray="1.3 2.3" opacity="0.95"/>
<line x1="1003.4" y1="170.1" x2="876.9" y2="466.6" stroke="#560b0b" stroke-width="1.05" stroke-dasharray="1.3 2.3" opacity="0.70"/>
<line x1="876.9" y1="466.6" x2="905.7" y2="495.4" stroke="#560b0b" stroke-width="1.05" stroke-dasharray="1.3 2.3" opacity="0.95"/>
<line x1="905.7" y1="495.4" x2="866.5" y2="524.6" stroke="#560b0b" stroke-width="1.05" stroke-dasharray="1.3 2.3" opacity="0.95"/>
<line x1="866.5" y1="524.6" x2="939.9" y2="567.4" stroke="#560b0b" stroke-width="1.05" stroke-dasharray="1.3 2.3" opacity="0.95"/>
<line x1="939.9" y1="567.4" x2="967.7" y2="611.0" stroke="#560b0b" stroke-width="1.05" stroke-dasharray="1.3 2.3" opacity="0.95"/>
<line x1="967.7" y1="611.0" x2="947.8" y2="650.9" stroke="#560b0b" stroke-width="1.05" stroke-dasharray="1.3 2.3" opacity="0.95"/>
<g stroke="#0a0a0a" stroke-width="2" fill="none">
<path d="M852.40 16.75 V655.50 M1044.30 16.75 V655.50"/>
<path d="M851.40 17.95 H1045.30" stroke-width="2.6"/>
<path d="M851.40 654.40 H1045.30" stroke-width="2.6"/>
</g>
<line x1="884.0" y1="654.4" x2="884.0" y2="648.8" stroke="#0a0a0a" stroke-width="2.1"/>
<line x1="916.0" y1="654.4" x2="916.0" y2="644.6" stroke="#0a0a0a" stroke-width="2.1"/>
<line x1="948.0" y1="654.4" x2="948.0" y2="648.8" stroke="#0a0a0a" stroke-width="2.1"/>
<line x1="980.0" y1="654.4" x2="980.0" y2="644.6" stroke="#0a0a0a" stroke-width="2.1"/>
<line x1="1012.0" y1="654.4" x2="1012.0" y2="648.8" stroke="#0a0a0a" stroke-width="2.1"/>
<rect x="945.7" y="14.2" width="7.6" height="7.6" fill="#7e0505"/>
<rect x="918.3" y="43.1" width="7.6" height="7.6" fill="#7e0505"/>
<rect x="940.9" y="72.2" width="7.6" height="7.6" fill="#7e0505"/>
<rect x="949.1" y="100.9" width="7.6" height="7.6" fill="#7e0505"/>
<rect x="1007.5" y="122.6" width="7.6" height="7.6" fill="#7e0505"/>
<rect x="995.2" y="144.1" width="7.6" height="7.6" fill="#7e0505"/>
<rect x="999.6" y="166.3" width="7.6" height="7.6" fill="#7e0505"/>
<rect x="873.2" y="463.1" width="7.4" height="7.0" fill="#fff" stroke="#5c0f0f" stroke-width="1.2"/>
<rect x="876.4" y="466.1" width="1" height="1" fill="#5a1010"/>
<rect x="902.0" y="491.9" width="7.4" height="7.0" fill="#fff" stroke="#5c0f0f" stroke-width="1.2"/>
<rect x="905.2" y="494.9" width="1" height="1" fill="#5a1010"/>
<rect x="862.8" y="521.1" width="7.4" height="7.0" fill="#fff" stroke="#5c0f0f" stroke-width="1.2"/>
<rect x="866.0" y="524.1" width="1" height="1" fill="#5a1010"/>
<rect x="936.2" y="563.9" width="7.4" height="7.0" fill="#fff" stroke="#5c0f0f" stroke-width="1.2"/>
<rect x="939.4" y="566.9" width="1" height="1" fill="#5a1010"/>
<rect x="964.0" y="607.5" width="7.4" height="7.0" fill="#fff" stroke="#5c0f0f" stroke-width="1.2"/>
<rect x="967.2" y="610.5" width="1" height="1" fill="#5a1010"/>
<rect x="942.2" y="651.2" width="7.4" height="7.0" fill="none" stroke="#5c0f0f" stroke-width="1.2"/>
<rect x="945.4" y="654.2" width="1" height="1" fill="#5a1010"/>
<text class="tl" transform="translate(897.00,686.90) scale(1,1.090)" >82.0</text>
<text class="tl" transform="translate(961.00,686.90) scale(1,1.090)" >84.0</text>
<text class="tl" transform="translate(1024.60,686.90) scale(1,1.090)" >86.0</text>
<text class="at" transform="translate(932.00,724.70) scale(1,1.070)" >CIA</text>
<rect x="169.3" y="765.3" width="69.1" height="42.7" fill="#c8cbc8" stroke="#1a1a1a" stroke-width="1.6"/>
<g fill="#0a0a0a"><circle cx="173.8" cy="771.1" r="1.85"/><circle cx="180.8" cy="771.1" r="1.85"/><circle cx="187.4" cy="771.1" r="1.85"/><circle cx="203.2" cy="771.1" r="1.85"/><circle cx="210.2" cy="771.1" r="1.85"/><circle cx="216.7" cy="771.1" r="1.85"/><circle cx="232.9" cy="771.1" r="1.85"/></g>
<circle cx="195.4" cy="771.4" r="2.75" fill="none" stroke="#0c0c0c" stroke-width="1.00"/>
<circle cx="224.6" cy="771.4" r="2.75" fill="none" stroke="#0c0c0c" stroke-width="1.00"/>
<g fill="#0a0a0a"><circle cx="181.9" cy="781.5" r="1.85"/><circle cx="188.7" cy="781.5" r="1.85"/><circle cx="195.4" cy="781.5" r="1.85"/><circle cx="211.2" cy="781.5" r="1.85"/><circle cx="218.0" cy="781.5" r="1.85"/><circle cx="224.7" cy="781.5" r="1.85"/></g>
<circle cx="173.8" cy="781.8" r="2.75" fill="none" stroke="#0c0c0c" stroke-width="1.00"/>
<circle cx="203.0" cy="781.8" r="2.75" fill="none" stroke="#0c0c0c" stroke-width="1.00"/>
<circle cx="232.9" cy="781.8" r="2.75" fill="none" stroke="#0c0c0c" stroke-width="1.00"/>
<g fill="#0a0a0a"><circle cx="173.8" cy="791.2" r="1.85"/><circle cx="180.8" cy="791.2" r="1.85"/><circle cx="187.4" cy="791.2" r="1.85"/><circle cx="203.2" cy="791.2" r="1.85"/><circle cx="210.2" cy="791.2" r="1.85"/><circle cx="216.7" cy="791.2" r="1.85"/><circle cx="232.9" cy="791.2" r="1.85"/></g>
<circle cx="195.4" cy="791.5" r="2.75" fill="none" stroke="#0c0c0c" stroke-width="1.00"/>
<circle cx="224.6" cy="791.5" r="2.75" fill="none" stroke="#0c0c0c" stroke-width="1.00"/>
<g fill="#0a0a0a"><circle cx="181.9" cy="801.9" r="1.85"/><circle cx="188.7" cy="801.9" r="1.85"/><circle cx="195.4" cy="801.9" r="1.85"/><circle cx="211.2" cy="801.9" r="1.85"/><circle cx="218.0" cy="801.9" r="1.85"/><circle cx="224.7" cy="801.9" r="1.85"/></g>
<circle cx="173.8" cy="802.2" r="2.75" fill="none" stroke="#0c0c0c" stroke-width="1.00"/>
<circle cx="203.0" cy="802.2" r="2.75" fill="none" stroke="#0c0c0c" stroke-width="1.00"/>
<circle cx="232.9" cy="802.2" r="2.75" fill="none" stroke="#0c0c0c" stroke-width="1.00"/>
<text class="lg" transform="translate(245.40,790.40) scale(1,1.070)" >Conglomeratic sandstone</text>
<rect x="441.3" y="765.3" width="69.1" height="42.7" fill="#c4cac7" stroke="#1a1a1a" stroke-width="1.6"/>
<circle cx="446.4" cy="770.3" r="2.80" fill="none" stroke="#0c0c0c" stroke-width="1.00"/>
<circle cx="461.0" cy="770.3" r="2.80" fill="none" stroke="#0c0c0c" stroke-width="1.00"/>
<circle cx="475.6" cy="770.3" r="2.80" fill="none" stroke="#0c0c0c" stroke-width="1.00"/>
<circle cx="490.2" cy="770.3" r="2.80" fill="none" stroke="#0c0c0c" stroke-width="1.00"/>
<circle cx="505.3" cy="770.3" r="2.80" fill="none" stroke="#0c0c0c" stroke-width="1.00"/>
<circle cx="454.0" cy="781.2" r="2.80" fill="none" stroke="#0c0c0c" stroke-width="1.00"/>
<circle cx="468.5" cy="781.2" r="2.80" fill="none" stroke="#0c0c0c" stroke-width="1.00"/>
<circle cx="483.0" cy="781.2" r="2.80" fill="none" stroke="#0c0c0c" stroke-width="1.00"/>
<circle cx="497.7" cy="781.2" r="2.80" fill="none" stroke="#0c0c0c" stroke-width="1.00"/>
<circle cx="446.4" cy="792.2" r="2.80" fill="none" stroke="#0c0c0c" stroke-width="1.00"/>
<circle cx="461.0" cy="792.2" r="2.80" fill="none" stroke="#0c0c0c" stroke-width="1.00"/>
<circle cx="475.6" cy="792.2" r="2.80" fill="none" stroke="#0c0c0c" stroke-width="1.00"/>
<circle cx="490.2" cy="792.2" r="2.80" fill="none" stroke="#0c0c0c" stroke-width="1.00"/>
<circle cx="505.3" cy="792.2" r="2.80" fill="none" stroke="#0c0c0c" stroke-width="1.00"/>
<circle cx="454.0" cy="803.1" r="2.80" fill="none" stroke="#0c0c0c" stroke-width="1.00"/>
<circle cx="468.5" cy="803.1" r="2.80" fill="none" stroke="#0c0c0c" stroke-width="1.00"/>
<circle cx="483.0" cy="803.1" r="2.80" fill="none" stroke="#0c0c0c" stroke-width="1.00"/>
<circle cx="497.7" cy="803.1" r="2.80" fill="none" stroke="#0c0c0c" stroke-width="1.00"/>
<text class="lg" transform="translate(518.60,790.20) scale(1,1.070)" >Conglomerate</text>
<rect x="713.4" y="765.3" width="69.1" height="42.7" fill="#d1d1d1" stroke="#1a1a1a" stroke-width="1.6"/>
<g fill="#0a0a0a">
<circle cx="716.7" cy="771.1" r="1.70"/>
<circle cx="721.7" cy="771.1" r="1.70"/>
<circle cx="730.6" cy="771.1" r="1.70"/>
<circle cx="735.5" cy="771.1" r="1.70"/>
<circle cx="744.7" cy="771.1" r="1.70"/>
<circle cx="749.6" cy="771.1" r="1.70"/>
<circle cx="758.5" cy="771.1" r="1.70"/>
<circle cx="763.6" cy="771.1" r="1.70"/>
<circle cx="772.6" cy="771.1" r="1.70"/>
<circle cx="777.5" cy="771.1" r="1.70"/>
<circle cx="723.4" cy="781.3" r="1.70"/>
<circle cx="728.4" cy="781.3" r="1.70"/>
<circle cx="737.5" cy="781.3" r="1.70"/>
<circle cx="742.4" cy="781.3" r="1.70"/>
<circle cx="751.8" cy="781.3" r="1.70"/>
<circle cx="756.7" cy="781.3" r="1.70"/>
<circle cx="765.6" cy="781.3" r="1.70"/>
<circle cx="770.8" cy="781.3" r="1.70"/>
<circle cx="716.7" cy="791.2" r="1.70"/>
<circle cx="721.7" cy="791.2" r="1.70"/>
<circle cx="730.6" cy="791.2" r="1.70"/>
<circle cx="735.5" cy="791.2" r="1.70"/>
<circle cx="744.7" cy="791.2" r="1.70"/>
<circle cx="749.6" cy="791.2" r="1.70"/>
<circle cx="758.5" cy="791.2" r="1.70"/>
<circle cx="763.6" cy="791.2" r="1.70"/>
<circle cx="772.6" cy="791.2" r="1.70"/>
<circle cx="777.5" cy="791.2" r="1.70"/>
<circle cx="723.4" cy="801.9" r="1.70"/>
<circle cx="728.4" cy="801.9" r="1.70"/>
<circle cx="737.5" cy="801.9" r="1.70"/>
<circle cx="742.4" cy="801.9" r="1.70"/>
<circle cx="751.8" cy="801.9" r="1.70"/>
<circle cx="756.7" cy="801.9" r="1.70"/>
<circle cx="765.6" cy="801.9" r="1.70"/>
<circle cx="770.8" cy="801.9" r="1.70"/>
</g>
<text class="lg" transform="translate(789.60,791.40) scale(1,1.070)" >Siltstone</text>
<rect x="169.3" y="846.4" width="69.1" height="42.7" fill="#d1d1d1" stroke="#1a1a1a" stroke-width="1.6"/>
<g fill="#0a0a0a">
<circle cx="176.8" cy="852.1" r="1.60"/>
<circle cx="181.9" cy="852.1" r="1.60"/>
<circle cx="189.6" cy="852.1" r="1.60"/>
<circle cx="194.7" cy="852.1" r="1.60"/>
<circle cx="202.9" cy="852.1" r="1.60"/>
<circle cx="207.8" cy="852.1" r="1.60"/>
<circle cx="225.2" cy="852.1" r="1.60"/>
<circle cx="230.2" cy="852.1" r="1.60"/>
<circle cx="188.1" cy="862.1" r="1.60"/>
<circle cx="193.0" cy="862.1" r="1.60"/>
<circle cx="201.1" cy="862.1" r="1.60"/>
<circle cx="206.0" cy="862.1" r="1.60"/>
<circle cx="213.7" cy="862.1" r="1.60"/>
<circle cx="218.8" cy="862.1" r="1.60"/>
<circle cx="176.8" cy="871.8" r="1.60"/>
<circle cx="181.9" cy="871.8" r="1.60"/>
<circle cx="189.6" cy="871.8" r="1.60"/>
<circle cx="194.7" cy="871.8" r="1.60"/>
<circle cx="202.9" cy="871.8" r="1.60"/>
<circle cx="207.8" cy="871.8" r="1.60"/>
<circle cx="225.2" cy="871.8" r="1.60"/>
<circle cx="230.2" cy="871.8" r="1.60"/>
<circle cx="188.1" cy="881.9" r="1.60"/>
<circle cx="193.0" cy="881.9" r="1.60"/>
<circle cx="201.1" cy="881.9" r="1.60"/>
<circle cx="206.0" cy="881.9" r="1.60"/>
<circle cx="213.7" cy="881.9" r="1.60"/>
<circle cx="218.8" cy="881.9" r="1.60"/>
</g>
<g font-size="6.2px" fill="#2a2a2a" stroke="#2a2a2a" stroke-width="0.2" text-anchor="middle">
<text x="216.6" y="854.2">C</text>
<text x="179.6" y="864.2">C</text>
<text x="227.9" y="864.2">C</text>
<text x="216.6" y="873.9">C</text>
<text x="179.6" y="884.0">C</text>
<text x="227.9" y="884.0">C</text>
</g>
<text class="lg" transform="translate(245.40,871.70) scale(1,1.070)" >Carbonaceous siltstone</text>
<rect x="441.3" y="846.4" width="69.1" height="42.7" fill="#d1d1d1" stroke="#1a1a1a" stroke-width="1.6"/>
<g fill="#0a0a0a">
<circle cx="446.8" cy="854.1" r="1.60"/>
<circle cx="451.5" cy="854.1" r="1.60"/>
<circle cx="475.0" cy="854.1" r="1.60"/>
<circle cx="479.6" cy="854.1" r="1.60"/>
<circle cx="489.0" cy="854.1" r="1.60"/>
<circle cx="493.7" cy="854.1" r="1.60"/>
<circle cx="503.5" cy="854.1" r="1.60"/>
<circle cx="508.0" cy="854.1" r="1.60"/>
<rect x="460.0" y="853.6" width="7.2" height="1.2" fill="#222"/>
<circle cx="453.5" cy="864.1" r="1.60"/>
<circle cx="458.3" cy="864.1" r="1.60"/>
<circle cx="468.0" cy="864.1" r="1.60"/>
<circle cx="472.6" cy="864.1" r="1.60"/>
<circle cx="482.6" cy="864.1" r="1.60"/>
<circle cx="487.5" cy="864.1" r="1.60"/>
<rect x="495.0" y="863.6" width="7.9" height="1.2" fill="#aaa"/>
<circle cx="446.8" cy="873.9" r="1.60"/>
<circle cx="451.5" cy="873.9" r="1.60"/>
<circle cx="461.5" cy="873.9" r="1.60"/>
<circle cx="466.0" cy="873.9" r="1.60"/>
<circle cx="475.6" cy="873.9" r="1.60"/>
<circle cx="480.0" cy="873.9" r="1.60"/>
<circle cx="503.5" cy="873.9" r="1.60"/>
<circle cx="508.0" cy="873.9" r="1.60"/>
<rect x="488.3" y="873.4" width="7.7" height="1.2" fill="#222"/>
<circle cx="453.5" cy="884.3" r="1.60"/>
<circle cx="458.3" cy="884.3" r="1.60"/>
<circle cx="468.0" cy="884.3" r="1.60"/>
<circle cx="472.6" cy="884.3" r="1.60"/>
<circle cx="482.6" cy="884.3" r="1.60"/>
<circle cx="487.5" cy="884.3" r="1.60"/>
<rect x="495.0" y="883.8" width="8.0" height="1.2" fill="#222"/>
</g>
<text class="lg" transform="translate(518.60,871.40) scale(1,1.070)" >Muddy siltstone</text>
<rect x="713.4" y="846.6" width="69.1" height="42.7" fill="#fff" stroke="#1a1a1a" stroke-width="1.6"/>
<polygon points="749.10,853.20 752.02,862.18 761.46,862.18 753.82,867.73 756.74,876.72 749.10,871.17 741.46,876.72 744.38,867.73 736.74,862.18 746.18,862.18" fill="#7e0505"/>
<text class="lg" transform="translate(789.60,872.00) scale(1,1.070)" >Sampling location</text>
</svg></body></html>
